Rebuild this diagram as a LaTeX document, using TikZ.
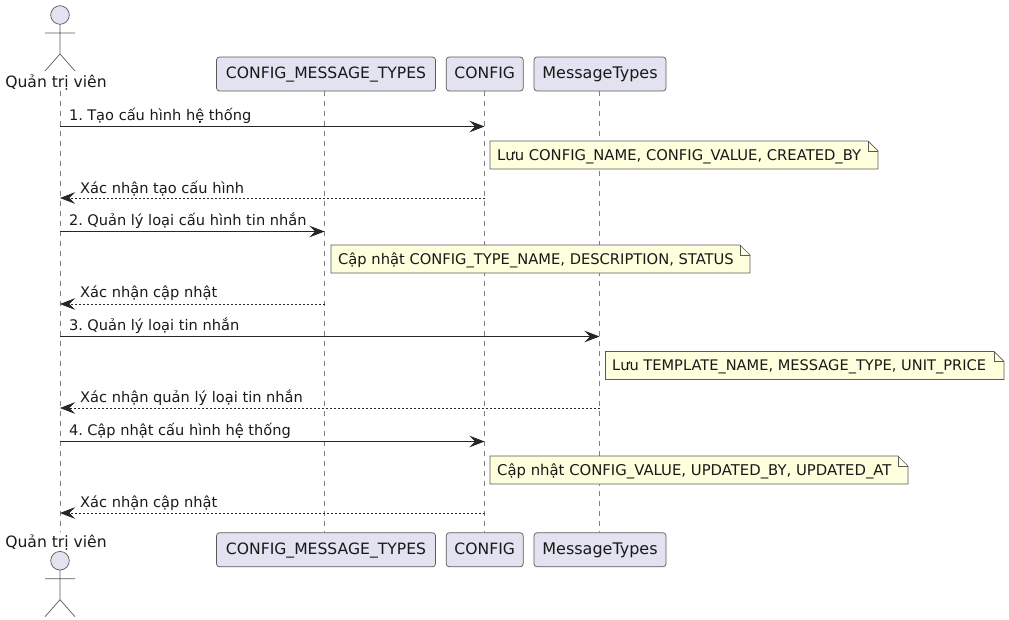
\documentclass[tikz,border=0pt]{standalone}
\usepackage{fontspec}
\setmainfont{DejaVu Sans}
\usetikzlibrary{arrows.meta,calc}
\definecolor{partfill}{HTML}{E2E2F0}
\definecolor{notefill}{HTML}{FEFFDD}
\definecolor{edge}{HTML}{5A5A5A}
\definecolor{lifec}{HTML}{808080}
\tikzset{
  x=1pt,y=-1pt,
  partbox/.style={draw=edge,fill=partfill,rounded corners=3pt,line width=0.7pt,minimum height=34pt,inner sep=0pt,text height=11.5pt,text depth=3pt,font=\fontsize{15.6}{18}\selectfont,text=black!90},
  lifeline/.style={draw=lifec,line width=0.7pt,dash pattern=on 5pt off 5pt},
  msg/.style={draw=black!85,line width=0.9pt,-{Stealth[length=15pt,width=11.5pt,inset=5.5pt]}},
  reply/.style={draw=black!85,line width=0.7pt,dash pattern=on 2pt off 2pt,-{Stealth[length=15pt,width=11.5pt,inset=5.5pt,line width=0.7pt]}},
  msglabel/.style={anchor=base west,inner sep=0pt,font=\fontsize{14.6}{17}\selectfont,text=black!90},
  notetext/.style={anchor=base west,inner sep=0pt,text=black!90},
  notebody/.style={draw=edge,fill=notefill,line width=0.7pt},
  actorshape/.style={draw=edge,line width=0.7pt},
  actorlabel/.style={anchor=base,inner sep=0pt,font=\fontsize{15.6}{18}\selectfont,text=black!90},
}
\newcommand{\notebg}[4]{% x0,y0,x1,y1
  \path[notebody] (#1,#2) -- (#3-10,#2) -- (#3,#2+10) -- (#3,#4) -- (#1,#4) -- cycle;
  \path[notebody,fill=none] (#3-10,#2) -- (#3-10,#2+10) -- (#3,#2+10);
}
\newcommand{\actorfig}[2]{% x, head y
  \path[actorshape,fill=partfill] (#1,#2) circle[radius=9.3];
  \path[actorshape] (#1,#2+9.3) -- (#1,#2+39) (#1-15,#2+18) -- (#1+15,#2+18)
    (#1-15,#2+56) -- (#1,#2+39) -- (#1+15,#2+56);
}
\begin{document}
\begin{tikzpicture}
\useasboundingbox (0,0) rectangle (1009,619);
% lane coordinates
\coordinate (adm) at (60,0);
\coordinate (cmt) at (324.5,0);
\coordinate (cfg) at (484.5,0);
\coordinate (mty) at (599.5,0);
\coordinate (top) at (0,91);
\coordinate (bot) at (0,532);
% rows
\coordinate (r1) at (0,126.5);
\coordinate (r2) at (0,198);
\coordinate (r3) at (0,231.5);
\coordinate (r4) at (0,304);
\coordinate (r5) at (0,336.5);
\coordinate (r6) at (0,408);
\coordinate (r7) at (0,441.5);
\coordinate (r8) at (0,513);
% lifelines
\draw[lifeline] (adm |- top) -- (adm |- bot);
\draw[lifeline] (cmt |- top) -- (cmt |- bot);
\draw[lifeline] (cfg |- top) -- (cfg |- bot);
\draw[lifeline] (mty |- top) -- (mty |- bot);
% participants
\node[partbox,minimum width=219pt] (cmtT) at (326,74) {CONFIG\_MESSAGE\_TYPES};
\node[partbox,minimum width=77pt] (cfgT) at (484.7,74) {CONFIG};
\node[partbox,minimum width=132pt,font=\fontsize{16}{18}\selectfont] (mtyT) at (600,74) {MessageTypes};
\node[partbox,minimum width=219pt] (cmtB) at (326,549.8) {CONFIG\_MESSAGE\_TYPES};
\node[partbox,minimum width=77pt] (cfgB) at (484.7,549.8) {CONFIG};
\node[partbox,minimum width=132pt,font=\fontsize{16}{18}\selectfont] (mtyB) at (600,549.8) {MessageTypes};
% actors
\actorfig{60}{15}
\node[actorlabel] (admT) at (56,87) {Quản trị viên};
\node[actorlabel] (admB) at (56,547) {Quản trị viên};
\actorfig{60}{560.7}
% messages
\draw[msg] (adm |- r1) -- (cfg |- r1);
\node[msglabel] (m1) at (69,120.7) {1.\kern-2pt{} Tạo cấu hình hệ thống};
\draw[reply] (cfg |- r2) -- (adm |- r2);
\node[msglabel] (m2) at (80,193.7) {Xác nhận tạo cấu hình};
\draw[msg] (adm |- r3) -- (cmt |- r3);
\node[msglabel] (m3) at (69,225.7) {2.\kern-2pt{} Quản lý loại cấu hình tin nhắn};
\draw[reply] (cmt |- r4) -- (adm |- r4);
\node[msglabel] (m4) at (80,297.7) {Xác nhận cập nhật};
\draw[msg] (adm |- r5) -- (mty |- r5);
\node[msglabel] (m5) at (69,330.7) {3.\kern-2pt{} Quản lý loại tin nhắn};
\draw[reply] (mty |- r6) -- (adm |- r6);
\node[msglabel] (m6) at (80,402.7) {Xác nhận quản lý loại tin nhắn};
\draw[msg] (adm |- r7) -- (cfg |- r7);
\node[msglabel] (m7) at (69,435.7) {4.\kern-2pt{} Cập nhật cấu hình hệ thống};
\draw[reply] (cfg |- r8) -- (adm |- r8);
\node[msglabel] (m8) at (80,507.7) {Xác nhận cập nhật};
% notes
\notebg{490}{141}{878}{169}
\node[notetext,font=\fontsize{14.76}{17}\selectfont] (n1) at (497,160) {Lưu CONFIG\_NAME, CONFIG\_VALUE, CREATED\_BY};
\notebg{331}{245}{750}{273}
\node[notetext,font=\fontsize{14.7}{17}\selectfont] (n2) at (338,264) {Cập nhật CONFIG\_TYPE\_NAME, DESCRIPTION, STATUS};
\notebg{605.5}{351.5}{1004}{379.5}
\node[notetext,font=\fontsize{14.6}{17}\selectfont] (n3) at (612,370) {Lưu TEMPLATE\_NAME, MESSAGE\_TYPE, UNIT\_PRICE};
\notebg{490}{456}{908}{484}
\node[notetext,font=\fontsize{14.85}{17}\selectfont] (n4) at (497,475) {Cập nhật CONFIG\_VALUE, UPDATED\_BY, UPDATED\_AT};
\end{tikzpicture}
\end{document}
